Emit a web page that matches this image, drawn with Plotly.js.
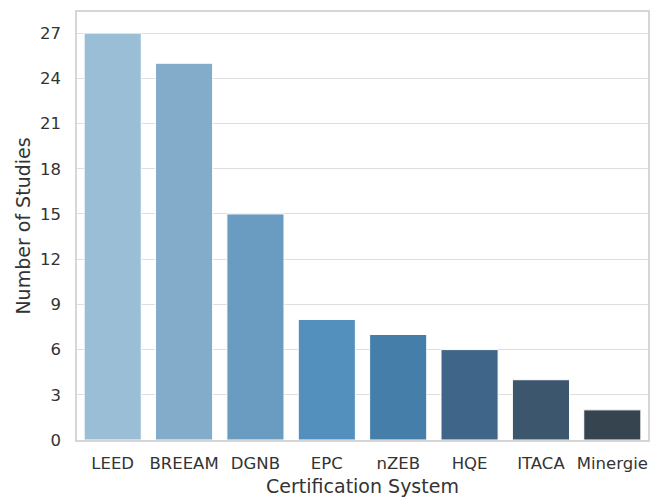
<!DOCTYPE html>
<html><head><meta charset="utf-8">
<script src="https://cdn.plot.ly/plotly-3.0.1.min.js"></script>
<style>body{margin:0;background:#fff}</style>
</head><body>
<div id="chart" style="width:651px;height:497px"></div>
<script>
const systems = ["LEED","BREEAM","DGNB","EPC","nZEB","HQE","ITACA","Minergie"];
const studies = [27,25,15,8,7,6,4,2];
const colors = ["#9abed6","#83accb","#6a9bc0","#5490be","#457ea8","#3f6688","#3b566d","#36444f"];
const yTicks = [0,3,6,9,12,15,18,21,24,27];

Plotly.newPlot("chart",[{
  type:"bar", x:systems, y:studies,
  marker:{color:colors, line:{color:"#ffffff", width:1}},
  hoverinfo:"x+y"
}],{
  width:651, height:497,
  margin:{l:77,r:3,t:12,b:57},
  paper_bgcolor:"#fff", plot_bgcolor:"#fff",
  bargap:0.2,
  font:{family:"DejaVu Sans, sans-serif", color:"#333", size:16},
  xaxis:{
    range:[-0.5,7.5], showgrid:false, ticks:"", tickfont:{size:16.5, color:"#333"},
    ticklabelstandoff:7,
    showline:true, mirror:true, linecolor:"#d6d6d6", linewidth:1.5,
    title:{text:"Certification System", font:{size:19, color:"#333"}, standoff:12},
    automargin:false
  },
  yaxis:{
    range:[0,28.4], tickvals:yTicks, ticktext:yTicks.map(String),
    showgrid:true, gridcolor:"#dedede", gridwidth:1.2, zeroline:false,
    ticks:"", tickfont:{size:16.5, color:"#333"}, ticklabelstandoff:11,
    showline:true, mirror:true, linecolor:"#d6d6d6", linewidth:1.5,
    title:{text:"Number of Studies", font:{size:19, color:"#333"}, standoff:4},
    automargin:false
  },
  showlegend:false
},{displayModeBar:false});
</script>
</body></html>
